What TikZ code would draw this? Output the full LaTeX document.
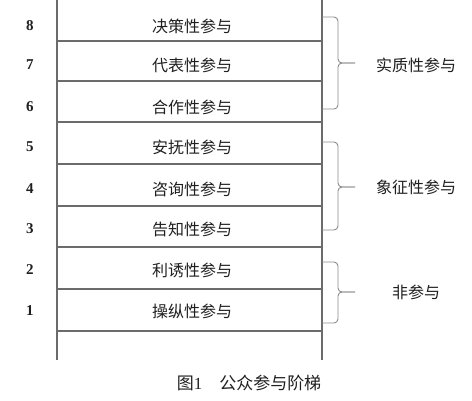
\documentclass[tikz,border=0pt]{standalone}
\usepackage{fontspec}
\setmainfont{Liberation Serif}
\newfontfamily\cjk{Noto Sans CJK SC}
\definecolor{linegray}{rgb}{0.42,0.42,0.42}
\definecolor{bracegray}{rgb}{0.55,0.55,0.55}
\definecolor{textgray}{rgb}{0.12,0.12,0.12}
\begin{document}
\begin{tikzpicture}[x=1pt,y=-1pt,
  rung/.style={draw=linegray,line width=1.1pt},
  rail/.style={draw=linegray,line width=1.1pt},
  bracepath/.style={draw=bracegray,line width=0.9pt,rounded corners=4pt},
  lvl/.style={font=\cjk\fontsize{16}{18}\selectfont,text=textgray,inner sep=0pt},
  num/.style={font=\fontsize{15}{16}\selectfont\bfseries,text=textgray,inner sep=0pt},
  grp/.style={font=\cjk\fontsize{16}{18}\selectfont,text=textgray,inner sep=0pt},
  captext/.style={font=\cjk\fontsize{17}{19}\selectfont,text=textgray,inner sep=0pt}]
\useasboundingbox (0,0) rectangle (472,400);
% rails
\coordinate (lt) at (57,0);
\coordinate (lb) at (57,360);
\coordinate (rt) at (322,0);
\coordinate (rb) at (322,360);
\draw[rail] (lt) -- (lb);
\draw[rail] (rt) -- (rb);
% rungs
\foreach \y/\n in {41/a,81/b,122/c,164/d,206/e,247/f,289/g,331/h}{
  \coordinate (L\n) at (57,\y);
  \coordinate (R\n) at (322,\y);
  \draw[rung] (L\n) -- (R\n);
}
% levels
\foreach \y/\k/\t in {26/8/决策性参与,65/7/代表性参与,107/6/合作性参与,147/5/安抚性参与,189/4/咨询性参与,229/3/告知性参与,270/2/利诱性参与,311/1/操纵性参与}{
  \node[num] (n\k) at (30,\y) {\k};
  \node[lvl] (t\k) at (192,\y) {\t};
}
% braces
\foreach \a/\b/\m/\n in {17/109/63/s,142/230/187/x,262/323/292/f}{
  \coordinate (bt\n) at (322,\a);
  \coordinate (bb\n) at (322,\b);
  \coordinate (tip\n) at (355,\m);
  \draw[bracepath] (bt\n) -- (338,\a) -- (338,\m) -- (tip\n);
  \draw[bracepath] (bb\n) -- (338,\b) -- (338,\m) -- (tip\n);
}
\node[grp] (gs) at (416,65) {实质性参与};
\node[grp] (gx) at (416,187) {象征性参与};
\node[grp] (gf) at (416,292) {非参与};
% caption
\node[captext] (caption) at (249,383) {图{\fontspec{Liberation Serif}1}\hspace{1em}公众参与阶梯};
\end{tikzpicture}
\end{document}
